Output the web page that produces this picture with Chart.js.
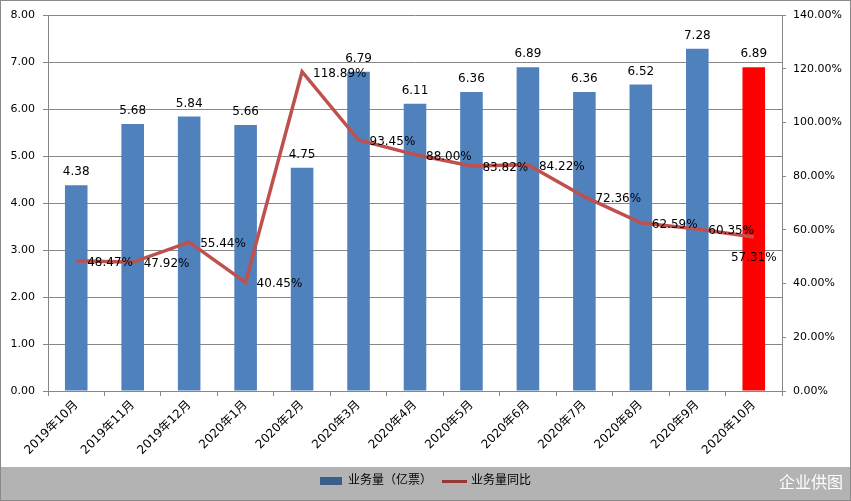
<!DOCTYPE html>
<html lang="zh">
<head>
    <meta charset="UTF-8">
    <title>业务量及同比</title>
    <script src="https://cdn.jsdelivr.net/npm/chart.js"></script>
    <style>
        html, body {
            margin: 0;
            padding: 0;
            background: #ffffff;
        }
        .chart-box {
            width: 851px;
            height: 501px;
            position: relative;
        }
    </style>
</head>
<body>
    <div class="chart-box">
        <canvas id="volumeChart" width="851" height="501"></canvas>
    </div>

    <script>
        // Data
        const months = ['2019年10月', '2019年11月', '2019年12月', '2020年1月', '2020年2月', '2020年3月',
            '2020年4月', '2020年5月', '2020年6月', '2020年7月', '2020年8月', '2020年9月', '2020年10月'];
        const volume = [4.38, 5.68, 5.84, 5.66, 4.75, 6.79, 6.11, 6.36, 6.89, 6.36, 6.52, 7.28, 6.89];
        const yoyGrowth = [48.47, 47.92, 55.44, 40.45, 118.89, 93.45, 88.00, 83.82, 84.22, 72.36, 62.59, 60.35, 57.31];
        const seriesNames = ['业务量（亿票）', '业务量同比'];

        const FONT = "'DejaVu Sans', 'Noto Sans CJK SC', sans-serif";
        const gridGray = '#878787';
        const barBlue = '#4F81BD';
        const lineRed = '#C0504D';

        // the latest month is highlighted
        const barColors = volume.map((v, i) => i === volume.length - 1 ? '#FF0000' : barBlue);

        // small swatches for the legend
        function swatch(w, h, color) {
            const c = document.createElement('canvas');
            c.width = w;
            c.height = h;
            const g = c.getContext('2d');
            g.fillStyle = color;
            g.fillRect(0, 0, w, h);
            return c;
        }
        const barSwatch = swatch(22, 8, '#3A5F8B');
        const lineSwatch = swatch(25, 3, '#953735');

        // white page, gray footer band, outer frame, watermark
        const framePlugin = {
            id: 'frame',
            beforeDraw(chart) {
                const ctx = chart.ctx;
                ctx.save();
                ctx.fillStyle = '#ffffff';
                ctx.fillRect(0, 0, chart.width, chart.height);
                ctx.fillStyle = '#b3b3b3';
                ctx.fillRect(0, 467, chart.width, chart.height - 467);
                ctx.strokeStyle = '#898989';
                ctx.lineWidth = 1;
                ctx.strokeRect(0.5, 0.5, chart.width - 1, chart.height - 1);
                ctx.restore();
            },
            afterDraw(chart) {
                const ctx = chart.ctx;
                ctx.save();
                ctx.fillStyle = '#ffffff';
                ctx.font = '16px ' + FONT;
                ctx.textAlign = 'right';
                ctx.textBaseline = 'middle';
                ctx.fillText('企业供图', 843, 484);
                ctx.restore();
            }
        };

        // value labels for bars and line points
        const valueLabels = {
            id: 'valueLabels',
            afterDatasetsDraw(chart) {
                const ctx = chart.ctx;
                ctx.save();
                ctx.font = '12px ' + FONT;
                ctx.fillStyle = '#000000';
                ctx.textBaseline = 'middle';

                const bars = chart.getDatasetMeta(0).data;
                ctx.textAlign = 'center';
                bars.forEach((el, i) => {
                    ctx.fillText(volume[i].toFixed(2), el.x, el.y - 13);
                });

                const points = chart.getDatasetMeta(1).data;
                points.forEach((el, i) => {
                    const txt = yoyGrowth[i].toFixed(2) + '%';
                    if (i === points.length - 1) {
                        ctx.textAlign = 'center';
                        ctx.fillText(txt, el.x, el.y + 21);
                    } else {
                        ctx.textAlign = 'left';
                        ctx.fillText(txt, el.x + 11, el.y + 2);
                    }
                });
                ctx.restore();
            }
        };

        new Chart(document.getElementById('volumeChart'), {
            data: {
                labels: months,
                datasets: [
                    {
                        type: 'bar',
                        label: seriesNames[0],
                        data: volume,
                        backgroundColor: barColors,
                        yAxisID: 'y',
                        order: 1,
                        barPercentage: 0.4,
                        categoryPercentage: 1.0,
                        pointStyle: barSwatch
                    },
                    {
                        type: 'line',
                        label: seriesNames[1],
                        data: yoyGrowth,
                        borderColor: lineRed,
                        backgroundColor: lineRed,
                        borderWidth: 3.5,
                        tension: 0,
                        pointRadius: 0,
                        yAxisID: 'y1',
                        order: 0,
                        pointStyle: lineSwatch
                    }
                ]
            },
            options: {
                responsive: false,
                animation: false,
                layout: {
                    padding: { top: 15, left: 0, right: 0, bottom: 4 }
                },
                plugins: {
                    legend: {
                        position: 'bottom',
                        labels: {
                            usePointStyle: true,
                            pointStyleWidth: 22,
                            padding: 11,
                            color: '#000000',
                            font: { family: FONT, size: 12 },
                            sort: (a, b) => a.datasetIndex - b.datasetIndex
                        }
                    },
                    tooltip: { enabled: false }
                },
                scales: {
                    x: {
                        grid: {
                            offset: true,
                            drawOnChartArea: false,
                            drawTicks: true,
                            tickLength: 5,
                            color: gridGray
                        },
                        border: { color: gridGray },
                        ticks: {
                            minRotation: 45,
                            maxRotation: 45,
                            autoSkip: false,
                            padding: 2,
                            color: '#000000',
                            font: { family: FONT, size: 12 }
                        },
                        afterFit(scale) { scale.height = 73; }
                    },
                    y: {
                        position: 'left',
                        min: 0,
                        max: 8,
                        grid: {
                            color: gridGray,
                            tickLength: 5
                        },
                        border: { color: gridGray },
                        ticks: {
                            stepSize: 1,
                            padding: 8,
                            color: '#000000',
                            font: { family: FONT, size: 11 },
                            callback: v => v.toFixed(2)
                        },
                        afterFit(scale) { scale.width = 48; }
                    },
                    y1: {
                        position: 'right',
                        min: 0,
                        max: 140,
                        grid: {
                            drawOnChartArea: false,
                            tickLength: 4,
                            color: gridGray
                        },
                        border: { color: gridGray },
                        ticks: {
                            stepSize: 20,
                            padding: 7,
                            color: '#000000',
                            font: { family: FONT, size: 11 },
                            callback: v => v.toFixed(2) + '%'
                        },
                        afterFit(scale) { scale.width = 69; }
                    }
                }
            },
            plugins: [framePlugin, valueLabels]
        });
    </script>
</body>
</html>
